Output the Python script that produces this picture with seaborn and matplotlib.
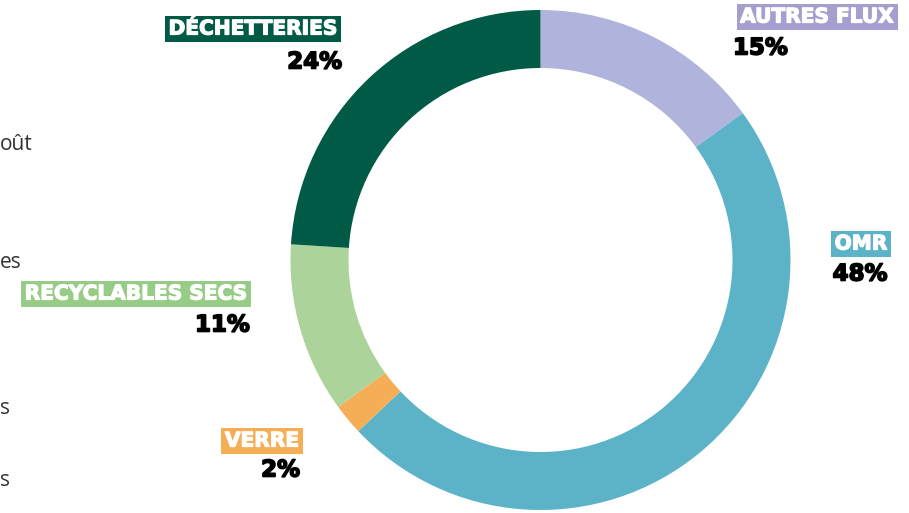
import matplotlib
matplotlib.use("Agg")
import matplotlib.pyplot as plt
import matplotlib.patheffects as pe
import seaborn as sns

W, H = 909, 513

CATEGORIES = ["AUTRES FLUX", "OMR", "VERRE", "RECYCLABLES SECS", "DÉCHETTERIES"]
SHARES     = [15, 48, 2, 11, 24]
COLORS     = ["#b0b4dd", "#5cb3c8", "#f5ae55", "#acd49a", "#005a46"]
BOX_COLORS = ["#a59fcf", "#5cb3c8", "#f5ae55", "#96cc86", "#005a46"]

# label anchors (px): box text position, percent position
LABEL_POS = {
    "AUTRES FLUX":      ((817, 17),  (733, 48)),
    "OMR":              ((861, 244), (860, 274)),
    "VERRE":            ((262, 441), (300, 470)),
    "RECYCLABLES SECS": ((136, 294), (250, 325)),
    "DÉCHETTERIES":     ((253, 29),  (342, 62)),
}
PCT_ALIGN = {"AUTRES FLUX": "left", "OMR": "center"}

# visible ends of words from a neighbouring block cut by the left edge
SIDE_TEXT = ["oût", "es", "s", "s"]
SIDE_POS  = [(0, 144), (0, 263), (0, 408), (0, 480)]

sns.set_theme(style="white")
plt.rcParams["font.family"] = ["DejaVu Sans"]


def fx(x):
    return x / W


def fy(y):
    return 1 - y / H


fig = plt.figure(figsize=(W / 100, H / 100), dpi=100)
fig.patch.set_facecolor("white")

cx, cy, r = 540.5, 260, 250
ax = fig.add_axes([fx(cx - r), fy(cy + r), 2 * r / W, 2 * r / H])
ax.pie(
    SHARES,
    colors=COLORS,
    startangle=90,
    counterclock=False,
    radius=1,
    wedgeprops=dict(width=58 / r, edgecolor="none"),
)
ax.set_xlim(-1, 1)
ax.set_ylim(-1, 1)
ax.set_aspect("equal")
ax.axis("off")

for cat, share, bc in zip(CATEGORIES, SHARES, BOX_COLORS):
    (bx, by), (px, py) = LABEL_POS[cat]
    fig.text(fx(bx), fy(by), cat, ha="center", va="center", color="white",
             fontsize=14.5, fontweight="bold",
             path_effects=[pe.withStroke(linewidth=0.9, foreground="white")],
             bbox=dict(boxstyle="square,pad=0.18", fc=bc, ec="none"))
    fig.text(fx(px), fy(py), f"{share}%", ha=PCT_ALIGN.get(cat, "right"),
             va="center", color="black", fontsize=16.5, fontweight="bold",
             path_effects=[pe.withStroke(linewidth=1.2, foreground="black")])

for txt, (x, y) in zip(SIDE_TEXT, SIDE_POS):
    fig.text(fx(x), fy(y), txt, ha="left", va="center", color="#333333",
             fontsize=15, family=["Open Sans", "DejaVu Sans"])

fig.savefig("out.png", dpi=100, facecolor="white")
